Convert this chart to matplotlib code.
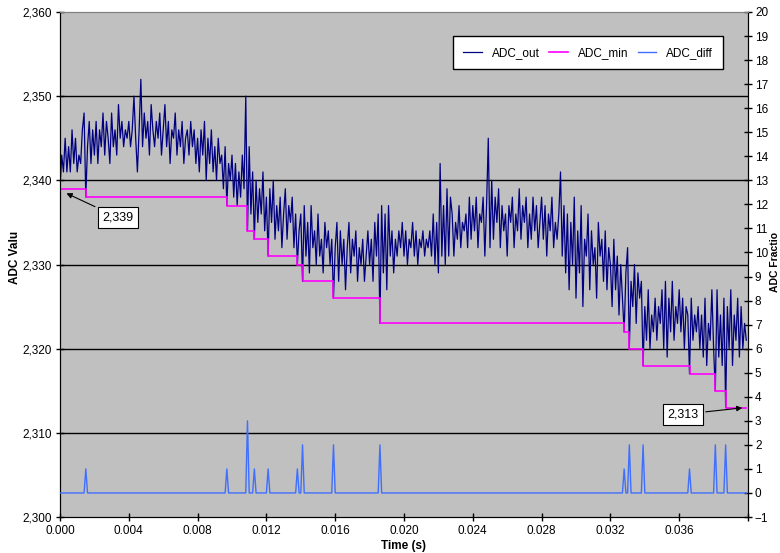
import matplotlib
matplotlib.use("Agg")
import matplotlib.pyplot as plt
import numpy as np
from matplotlib.ticker import FuncFormatter, MultipleLocator

plt.rcParams['font.family'] = ['Liberation Sans', 'DejaVu Sans']

# sample step of the ADC trace (s)
dt = 0.0001

# ADC_out, one value per sample
adc_out = [
    2339, 2343, 2341, 2345, 2341, 2344, 2341, 2346, 2342, 2345, 2341, 2343, 2342, 2346, 2348, 2338, 2344, 2347, 2342, 2346,
    2343, 2347, 2342, 2346, 2344, 2348, 2343, 2347, 2345, 2342, 2348, 2344, 2346, 2343, 2349, 2345, 2347, 2344, 2346, 2345,
    2347, 2344, 2346, 2350, 2345, 2341, 2346, 2352, 2344, 2348, 2345, 2347, 2343, 2349, 2346, 2344, 2347, 2345, 2348, 2343,
    2346, 2349, 2344, 2347, 2342, 2346, 2345, 2348, 2343, 2346, 2344, 2347, 2342, 2345, 2346, 2343, 2347, 2344, 2346, 2342,
    2345, 2341, 2346, 2343, 2347, 2340, 2345, 2342, 2346, 2341, 2344, 2340, 2345, 2342, 2343, 2339, 2344, 2337, 2342, 2340,
    2343, 2338, 2342, 2337, 2341, 2338, 2343, 2339, 2350, 2334, 2344, 2336, 2341, 2333, 2340, 2335, 2339, 2336, 2341, 2334,
    2338, 2331, 2339, 2335, 2340, 2333, 2337, 2334, 2338, 2332, 2336, 2339, 2333, 2337, 2335, 2338, 2332, 2336, 2330, 2334,
    2336, 2328, 2337, 2331, 2335, 2329, 2337, 2332, 2334, 2330, 2336, 2331, 2333, 2329, 2335, 2332, 2334, 2330, 2333, 2326,
    2332, 2335, 2328, 2334, 2330, 2333, 2327, 2332, 2335, 2329, 2333, 2331, 2334, 2328, 2332, 2330, 2333, 2328, 2331, 2334,
    2330, 2333, 2328, 2335, 2331, 2336, 2323, 2337, 2329, 2336, 2327, 2337, 2331, 2334, 2329, 2333, 2331, 2334, 2332, 2335,
    2331, 2334, 2330, 2333, 2332, 2335, 2331, 2334, 2330, 2333, 2332, 2334, 2331, 2333, 2332, 2334, 2331, 2336, 2330, 2335,
    2329, 2342, 2331, 2337, 2330, 2339, 2331, 2338, 2336, 2331, 2335, 2333, 2337, 2332, 2335, 2334, 2336, 2332, 2338, 2333,
    2337, 2334, 2338, 2332, 2336, 2335, 2338, 2331, 2337, 2345, 2332, 2340, 2333, 2338, 2335, 2339, 2332, 2337, 2334, 2336,
    2331, 2337, 2335, 2338, 2332, 2336, 2334, 2339, 2333, 2337, 2335, 2338, 2332, 2336, 2333, 2338, 2334, 2337, 2332, 2335,
    2338, 2333, 2337, 2331, 2336, 2334, 2338, 2332, 2335, 2333, 2336, 2341, 2331, 2337, 2329, 2336, 2327, 2335, 2330, 2338,
    2326, 2334, 2329, 2337, 2325, 2333, 2331, 2336, 2327, 2334, 2330, 2332, 2326, 2335, 2331, 2333, 2328, 2334, 2327, 2332,
    2330, 2325, 2333, 2327, 2331, 2324, 2330, 2326, 2322, 2329, 2332, 2320, 2328, 2325, 2330, 2323, 2329, 2326, 2328, 2318,
    2325, 2321, 2327, 2320, 2324, 2322, 2326, 2321, 2325, 2323, 2327, 2320, 2328, 2319, 2326, 2322, 2328, 2321, 2325, 2323,
    2327, 2322, 2326, 2320, 2325, 2324, 2317, 2326, 2321, 2324, 2322, 2325, 2320, 2324, 2319, 2326, 2318, 2323, 2321, 2327,
    2320, 2315, 2327, 2319, 2324, 2318, 2326, 2313, 2325, 2320, 2327, 2318, 2324, 2321, 2326, 2319, 2325, 2320, 2323, 2321,
]

# ADC_min steps (time where the new minimum starts, level)
min_times = [0.0, 0.0015, 0.0097, 0.0109, 0.0113, 0.0121, 0.0138, 0.0141, 0.0159,
             0.0186, 0.0328, 0.0331, 0.0339, 0.0366, 0.0381, 0.0387]
min_levels = [2339, 2338, 2337, 2334, 2333, 2331, 2330, 2328, 2326,
              2323, 2322, 2320, 2318, 2317, 2315, 2313]

# ADC_diff spikes (zero elsewhere)
diff_times = [0.0015, 0.0097, 0.0109, 0.0113, 0.0121, 0.0138, 0.0141, 0.0159,
              0.0186, 0.0328, 0.0331, 0.0339, 0.0366, 0.0381, 0.0387]
diff_values = [1, 1, 3, 1, 1, 1, 2, 2, 2, 1, 2, 2, 1, 2, 2]

t = np.arange(len(adc_out)) * dt
adc_diff = np.zeros(len(adc_out))
for tt, v in zip(diff_times, diff_values):
    adc_diff[int(round(tt / dt))] = v

fig = plt.figure(figsize=(7.8, 5.53), dpi=100)
ax = fig.add_axes([60 / 780, 36 / 553, 688 / 780, 505 / 553])
ax.set_facecolor('#C0C0C0')

for y in [2310, 2320, 2330, 2340, 2350]:
    ax.axhline(y, color='black', lw=1.0, zorder=1)

l_out, = ax.plot(t, adc_out, color='#000080', lw=0.9, zorder=3, label='ADC_out')
l_min, = ax.step(min_times + [t[-1]], min_levels + [min_levels[-1]], where='post',
                 color='#FF00FF', lw=1.2, zorder=4, label='ADC_min')

ax.set_xlim(0, 0.04)
ax.set_ylim(2300, 2360)
ax.set_xticks(np.arange(0, 0.0401, 0.004))
ax.set_xticklabels(['%.3f' % v for v in np.arange(0, 0.0361, 0.004)] + [''])
ax.yaxis.set_major_locator(MultipleLocator(10))
ax.yaxis.set_major_formatter(FuncFormatter(lambda v, p: '{:,.0f}'.format(v)))
ax.tick_params(direction='inout', length=6, width=1, labelsize=8.5, pad=3)

ax2 = ax.twinx()
l_diff, = ax2.plot(t, adc_diff, color='#3F6FFF', lw=1.0, zorder=5, label='ADC_diff')
ax2.set_ylim(-1, 20)
ax2.yaxis.set_major_locator(MultipleLocator(1))
ax2.tick_params(direction='inout', length=6, width=1, labelsize=8.5, pad=2)

for a in (ax, ax2):
    for s in ['left', 'right', 'bottom']:
        a.spines[s].set_color('black')
    a.spines['top'].set_color('#808080')

ax.set_xlabel('Time (s)', fontsize=8.5, fontweight='bold', labelpad=2)
fig.text(15 / 780, 1 - 257 / 553, 'ADC Valu', rotation=90, fontsize=8.5,
         fontweight='bold', ha='center', va='center')
fig.text(775.5 / 780, 1 - 262 / 553, 'ADC Fractio', rotation=90, fontsize=7.5,
         fontweight='bold', ha='center', va='center')

leg = ax2.legend(handles=[l_out, l_min, l_diff], ncol=3, loc='center',
                 bbox_to_anchor=(0.571, 0.888, 0.393, 0.063), mode='expand',
                 fontsize=8.5, frameon=True, fancybox=False, handlelength=1.6,
                 borderpad=0.9, borderaxespad=0)
leg.get_frame().set_edgecolor('black')
leg.get_frame().set_linewidth(1.0)
leg.get_frame().set_alpha(1.0)

box = dict(boxstyle='square,pad=0.35', fc='white', ec='black', lw=0.8)
ax.annotate('2,339', xy=(0.00023, 2338.6), xytext=(0.00336, 2335.6), fontsize=9,
            ha='center', va='center', bbox=box, zorder=6,
            arrowprops=dict(arrowstyle='-|>', color='black', lw=0.8, mutation_scale=8))
ax.annotate('2,313', xy=(0.03983, 2313.0), xytext=(0.0362, 2312.2), fontsize=9,
            ha='center', va='center', bbox=box, zorder=6,
            arrowprops=dict(arrowstyle='-|>', color='black', lw=0.8, mutation_scale=8))

fig.savefig('out.png', dpi=100)
